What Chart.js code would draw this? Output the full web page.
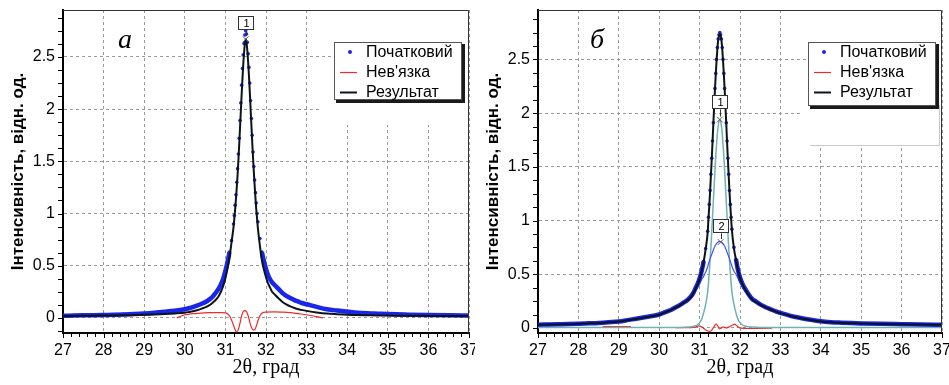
<!DOCTYPE html>
<html lang="uk">
<head>
<meta charset="utf-8">
<title>Профілі піка 2θ ≈ 31.5°</title>
<script src="https://cdn.jsdelivr.net/npm/chart.js@4.4.1/dist/chart.umd.min.js"></script>
<style>
  html, body { margin: 0; padding: 0; background: #fff; }
  #wrap { display: flex; width: 949px; height: 385px; overflow: hidden; }
  canvas { display: block; }
</style>
</head>
<body>
<div id="wrap">
  <canvas id="chartA" width="475" height="385"></canvas>
  <canvas id="chartB" width="474" height="385"></canvas>
</div>
<script>
// 2θ sample points, shared by both panels (degrees)
const twoTheta = [
  27.0, 27.25, 27.5, 27.75, 28.0, 28.25, 28.5, 28.75, 29.0, 29.25, 29.5, 29.75,
  30.0, 30.1, 30.2, 30.3, 30.4, 30.5, 30.6, 30.7, 30.8,
  30.85, 30.9, 30.95, 31.0, 31.05, 31.1, 31.15, 31.2,
  31.22, 31.24, 31.26, 31.28, 31.3, 31.32, 31.34, 31.36, 31.38, 31.4,
  31.42, 31.44, 31.46, 31.48, 31.5, 31.52, 31.54, 31.56, 31.58, 31.6,
  31.62, 31.64, 31.66, 31.68, 31.7, 31.72, 31.74, 31.76, 31.78, 31.8,
  31.85, 31.9, 31.95, 32.0, 32.05, 32.1, 32.15, 32.2,
  32.3, 32.4, 32.5, 32.6, 32.7, 32.8, 32.9, 33.0,
  33.25, 33.5, 33.75, 34.0, 34.25, 34.5, 34.75, 35.0,
  35.5, 36.0, 36.5, 37.0
];

// panel а
const measuredA = [
  0.020, 0.022, 0.024, 0.026, 0.028, 0.030, 0.033, 0.037, 0.042, 0.049, 0.058, 0.068,
  0.083, 0.092, 0.103, 0.117, 0.133, 0.150, 0.175, 0.21, 0.26,
  0.29, 0.33, 0.38, 0.45, 0.53, 0.63, 0.74, 0.90,
  0.98, 1.08, 1.18, 1.30, 1.43, 1.57, 1.72, 1.89, 2.06, 2.23,
  2.39, 2.52, 2.63, 2.71, 2.75, 2.72, 2.64, 2.53, 2.40, 2.25,
  2.08, 1.91, 1.75, 1.59, 1.45, 1.32, 1.20, 1.10, 1.00, 0.92,
  0.76, 0.63, 0.54, 0.47, 0.41, 0.37, 0.34, 0.32,
  0.28, 0.24, 0.21, 0.19, 0.17, 0.155, 0.14, 0.13,
  0.105, 0.083, 0.070, 0.060, 0.050, 0.044, 0.040, 0.036,
  0.031, 0.027, 0.024, 0.022
];
const fitA = [
  0.018, 0.019, 0.020, 0.021, 0.022, 0.023, 0.025, 0.027, 0.029, 0.032, 0.036, 0.042,
  0.050, 0.056, 0.063, 0.073, 0.086, 0.10, 0.12, 0.15, 0.19,
  0.22, 0.26, 0.31, 0.38, 0.47, 0.58, 0.72, 0.87,
  0.95, 1.04, 1.14, 1.25, 1.37, 1.51, 1.66, 1.82, 1.98, 2.14,
  2.29, 2.43, 2.54, 2.63, 2.67, 2.64, 2.56, 2.45, 2.32, 2.17,
  2.01, 1.85, 1.69, 1.54, 1.40, 1.27, 1.15, 1.04, 0.95, 0.86,
  0.69, 0.55, 0.46, 0.39, 0.33, 0.29, 0.25, 0.23,
  0.19, 0.155, 0.13, 0.11, 0.095, 0.083, 0.074, 0.067,
  0.052, 0.041, 0.035, 0.030, 0.027, 0.025, 0.023, 0.022,
  0.020, 0.019, 0.018, 0.017
];
const residualXA = [
  29.8, 30.0, 30.2, 30.4, 30.6, 30.8, 30.9, 31.0, 31.05, 31.1,
  31.15, 31.2, 31.24, 31.28, 31.32, 31.36, 31.4, 31.44, 31.48, 31.52,
  31.56, 31.6, 31.64, 31.68, 31.72, 31.76, 31.8, 31.85, 31.9, 32.0,
  32.2, 32.4, 32.6, 32.8, 33.0, 33.2, 33.4
];
const residualA = [
  0.0, 0.03, 0.04, 0.045, 0.05, 0.05, 0.05, 0.048, 0.04, 0.02,
  -0.02, -0.07, -0.115, -0.135, -0.11, -0.05, 0.02, 0.06, 0.07, 0.06,
  0.02, -0.04, -0.09, -0.115, -0.115, -0.08, -0.03, 0.02, 0.045, 0.055,
  0.058, 0.055, 0.05, 0.04, 0.03, 0.015, 0.0
];
const peakXA = [31.5];
const peakYA = [2.67];
const peakLabelYA = [2.83];
const peakNamesA = ['1'];

// panel б
const measuredB = [
  0.030, 0.032, 0.034, 0.036, 0.039, 0.043, 0.047, 0.053, 0.060, 0.075, 0.090, 0.107,
  0.125, 0.14, 0.155, 0.17, 0.19, 0.21, 0.235, 0.26, 0.30,
  0.33, 0.37, 0.41, 0.46, 0.53, 0.62, 0.74, 0.90,
  1.03, 1.15, 1.28, 1.43, 1.58, 1.74, 1.91, 2.07, 2.23, 2.37,
  2.50, 2.61, 2.69, 2.73, 2.75, 2.73, 2.69, 2.61, 2.50, 2.37,
  2.23, 2.07, 1.91, 1.74, 1.58, 1.43, 1.28, 1.15, 1.03, 0.92,
  0.75, 0.64, 0.54, 0.47, 0.42, 0.38, 0.35, 0.32,
  0.27, 0.245, 0.22, 0.20, 0.183, 0.167, 0.152, 0.14,
  0.113, 0.093, 0.076, 0.062, 0.054, 0.049, 0.045, 0.042,
  0.038, 0.035, 0.032, 0.030
];
const fitB = [
  0.029, 0.031, 0.033, 0.035, 0.038, 0.042, 0.046, 0.052, 0.059, 0.073, 0.088, 0.105,
  0.123, 0.138, 0.153, 0.168, 0.188, 0.208, 0.233, 0.258, 0.295,
  0.325, 0.365, 0.405, 0.455, 0.525, 0.615, 0.735, 0.89,
  1.02, 1.14, 1.27, 1.42, 1.57, 1.73, 1.90, 2.06, 2.22, 2.36,
  2.49, 2.60, 2.68, 2.72, 2.74, 2.72, 2.68, 2.60, 2.49, 2.36,
  2.22, 2.06, 1.90, 1.73, 1.57, 1.42, 1.27, 1.14, 1.02, 0.91,
  0.74, 0.635, 0.535, 0.465, 0.415, 0.375, 0.345, 0.315,
  0.265, 0.24, 0.218, 0.198, 0.181, 0.165, 0.15, 0.138,
  0.111, 0.091, 0.075, 0.061, 0.053, 0.048, 0.044, 0.041,
  0.037, 0.034, 0.031, 0.029
];
const peak1B = [
  0.005, 0.005, 0.005, 0.005, 0.005, 0.005, 0.005, 0.005, 0.005, 0.005, 0.005, 0.005,
  0.005, 0.005, 0.005, 0.005, 0.005, 0.005, 0.006, 0.008, 0.012,
  0.015, 0.02, 0.03, 0.05, 0.08, 0.14, 0.22, 0.335,
  0.42, 0.52, 0.63, 0.75, 0.89, 1.03, 1.18, 1.32, 1.46, 1.60,
  1.71, 1.81, 1.88, 1.925, 1.94, 1.925, 1.88, 1.81, 1.71, 1.60,
  1.46, 1.32, 1.18, 1.03, 0.89, 0.75, 0.63, 0.52, 0.42, 0.335,
  0.22, 0.14, 0.08, 0.05, 0.03, 0.02, 0.015, 0.012,
  0.008, 0.006, 0.005, 0.005, 0.005, 0.005, 0.005, 0.005,
  0.005, 0.005, 0.005, 0.005, 0.005, 0.005, 0.005, 0.005,
  0.005, 0.005, 0.005, 0.005
];
const peak2B = [
  0.025, 0.027, 0.029, 0.031, 0.034, 0.038, 0.042, 0.048, 0.055, 0.070, 0.085, 0.102,
  0.12, 0.135, 0.15, 0.165, 0.185, 0.205, 0.23, 0.25, 0.29,
  0.315, 0.35, 0.38, 0.41, 0.45, 0.48, 0.52, 0.57,
  0.60, 0.62, 0.645, 0.665, 0.685, 0.705, 0.725, 0.745, 0.76, 0.775,
  0.785, 0.795, 0.80, 0.805, 0.805, 0.805, 0.80, 0.795, 0.785, 0.775,
  0.76, 0.745, 0.725, 0.705, 0.685, 0.665, 0.645, 0.62, 0.60, 0.575,
  0.53, 0.50, 0.46, 0.42, 0.39, 0.36, 0.335, 0.31,
  0.262, 0.239, 0.215, 0.195, 0.178, 0.162, 0.147, 0.135,
  0.108, 0.088, 0.071, 0.057, 0.049, 0.044, 0.040, 0.037,
  0.033, 0.030, 0.027, 0.025
];
const residualXB = [
  28.6, 28.8, 29.0, 29.3, 29.8, 30.4, 30.6, 30.8, 30.9, 30.97,
  31.05, 31.12, 31.2, 31.26, 31.32, 31.37, 31.41, 31.45, 31.49, 31.54,
  31.58, 31.62, 31.66, 31.72, 31.78, 31.83, 31.87, 31.92, 32.0, 32.2,
  32.5, 32.8
];
const residualB = [
  0.012, 0.013, 0.012, 0.012, null, 0.002, 0.002, 0.003, 0.008, 0.02,
  0.012, -0.01, -0.028, -0.032, -0.01, 0.02, 0.036, 0.02, -0.008, 0.0,
  0.01, 0.005, 0.0, 0.008, 0.02, 0.03, 0.035, 0.02, 0.0, -0.005,
  -0.004, -0.003
];
const peakXB = [31.5, 31.52];
const peakYB = [1.94, 0.80];
const peakLabelYB = [2.10, 0.946];
const peakNamesB = ['1', '2'];

const BLUE = '#1a26ea';
const BLACK = '#0d1418';
const RED = '#f02a2a';
const TEAL = '#6fb2b2';
const THIN_BLUE = '#4352ee';
const GRID = '#9a9a9a';
const SANS = "'Liberation Sans', Arial, sans-serif";
const SERIF = "'Liberation Serif', 'Times New Roman', serif";
const bandGap = [31.1, 31.9]; // dots only (no dense band) around the apex

Chart.defaults.font.family = SANS;
Chart.defaults.color = '#000';

function pairs(xs, ys) {
  return xs.map((x, i) => ({ x, y: ys[i] }));
}

function measuredSet(values, order) {
  return {
    label: 'Початковий', legendKind: 'dot',
    data: pairs(twoTheta, values),
    showLine: true, borderColor: BLUE, borderWidth: 4.5,
    segment: {
      borderColor: c => (c.p0.parsed.x >= bandGap[0] && c.p1.parsed.x <= bandGap[1]) ? 'rgba(0,0,0,0)' : BLUE
    },
    pointRadius: 1.8, pointBackgroundColor: BLUE, pointBorderWidth: 0,
    order
  };
}

function lineSet(label, xs, values, color, width, order, legendKind) {
  return {
    label, legendKind,
    data: pairs(xs, values),
    borderColor: color, borderWidth: width,
    pointRadius: 0, spanGaps: false,
    order
  };
}

function markerSet(xs, ys) {
  return {
    label: 'peaks',
    data: pairs(xs, ys),
    showLine: false,
    pointStyle: 'crossRot', pointRadius: 4,
    pointBorderColor: '#555', pointBorderWidth: 1,
    order: 0
  };
}

// keep the plot box exactly where the layout padding puts it
function noLabelPadding(s) {
  s.paddingLeft = s.paddingRight = s.paddingTop = s.paddingBottom = 0;
}

// white patch behind legend, frame, minor ticks, peak tags, panel letter, legend
const panelDecor = {
  id: 'panelDecor',
  beforeDatasetsDraw(chart, args, o) {
    const { ctx, chartArea: a } = chart;
    ctx.save();
    ctx.fillStyle = '#fff';
    ctx.fillRect(a.right - o.clearWidth, a.top + 52, o.clearWidth - 1, o.clearBottom - 52);
    ctx.fillRect(a.right - o.legendRight - o.legendWidth, a.top + 1, o.legendWidth + o.legendRight - 1, 60);
    if (o.clearEdge) {
      ctx.strokeStyle = '#c8c8c8';
      ctx.lineWidth = 1;
      ctx.beginPath();
      ctx.moveTo(a.right - o.clearWidth + 10, a.top + o.clearBottom + 0.5);
      ctx.lineTo(a.right - 2.5, a.top + o.clearBottom + 0.5);
      ctx.lineTo(a.right - 2.5, a.top + 95);
      ctx.stroke();
    }
    ctx.restore();
  },
  afterDatasetsDraw(chart, args, o) {
    const { ctx, chartArea: a, scales: { x, y } } = chart;
    ctx.save();

    // frame top / right
    ctx.strokeStyle = '#333';
    ctx.lineWidth = 1;
    ctx.beginPath();
    ctx.moveTo(a.left, a.top + 0.5);
    ctx.lineTo(a.right - 0.5, a.top + 0.5);
    ctx.lineTo(a.right - 0.5, a.bottom);
    ctx.stroke();

    // ticks: 0.2 on x, 0.125 on y
    ctx.strokeStyle = '#000';
    ctx.beginPath();
    const nx = Math.round((x.max - x.min) / 0.2);
    for (let i = 0; i <= nx; i++) {
      const px = Math.round(x.getPixelForValue(x.min + i * 0.2)) + 0.5;
      ctx.moveTo(px, a.bottom + 1);
      ctx.lineTo(px, a.bottom + (i % 5 === 0 ? 5 : 4));
    }
    for (let v = Math.ceil(y.min / 0.125) * 0.125; v <= y.max; v += 0.125) {
      const py = Math.round(y.getPixelForValue(v)) + 0.5;
      ctx.moveTo(a.left - 5, py);
      ctx.lineTo(a.left - 1, py);
    }
    ctx.stroke();

    // peak tags
    ctx.font = '11px ' + SANS;
    ctx.textAlign = 'center';
    ctx.textBaseline = 'middle';
    o.peaks.xs.forEach((px0, i) => {
      const px = x.getPixelForValue(px0);
      const by = y.getPixelForValue(o.peaks.labelYs[i]);
      const my = y.getPixelForValue(o.peaks.ys[i]);
      ctx.strokeStyle = '#333';
      ctx.beginPath();
      ctx.moveTo(Math.round(px) + 0.5, by + 7);
      ctx.lineTo(Math.round(px) + 0.5, my - 3);
      ctx.stroke();
      ctx.fillStyle = '#fff';
      ctx.fillRect(Math.round(px) - 8, Math.round(by) - 7, 16, 14);
      ctx.strokeRect(Math.round(px) - 7.5, Math.round(by) - 6.5, 15, 13);
      ctx.fillStyle = '#000';
      ctx.fillText(o.peaks.names[i], Math.round(px) + 0.5, Math.round(by) + 0.5);
    });

    // panel letter
    ctx.font = 'italic 28px ' + SERIF;
    ctx.textBaseline = 'alphabetic';
    ctx.fillText(o.letter.text, x.getPixelForValue(o.letter.x), y.getPixelForValue(o.letter.y));

    // legend box
    const lx = Math.round(a.right - o.legendRight - o.legendWidth);
    const ly = Math.round(a.top + 32);
    ctx.fillStyle = '#fff';
    ctx.fillRect(lx, ly, o.legendWidth, o.legendHeight);
    ctx.fillStyle = '#1a1a1a';
    ctx.fillRect(lx + o.legendWidth, ly + 2, 3, o.legendHeight + 1);
    ctx.fillRect(lx + 2, ly + o.legendHeight, o.legendWidth, 3);
    ctx.strokeStyle = '#555';
    ctx.strokeRect(lx + 0.5, ly + 0.5, o.legendWidth - 1, o.legendHeight - 1);

    ctx.font = '16px ' + SANS;
    ctx.textAlign = 'left';
    ctx.textBaseline = 'middle';
    const items = chart.data.datasets.filter(d => d.legendKind);
    items.sort((p, q) => o.legendOrder.indexOf(p.label) - o.legendOrder.indexOf(q.label));
    items.forEach((d, i) => {
      const ry = ly + 10 + i * 20;
      if (d.legendKind === 'dot') {
        ctx.fillStyle = BLUE;
        ctx.beginPath();
        ctx.arc(lx + 16, ry, 2, 0, Math.PI * 2);
        ctx.fill();
      } else {
        ctx.strokeStyle = d.borderColor;
        ctx.lineWidth = d.borderWidth;
        ctx.beginPath();
        ctx.moveTo(lx + 6, ry + 0.5);
        ctx.lineTo(lx + 23, ry + 0.5);
        ctx.stroke();
      }
      ctx.fillStyle = '#000';
      ctx.fillText(d.label, lx + 32, ry + 1);
    });
    ctx.restore();
  }
};

function buildChart(canvasId, cfg) {
  const ctx = document.getElementById(canvasId).getContext('2d');
  return new Chart(ctx, {
    type: 'line',
    data: { datasets: cfg.datasets },
    options: {
      responsive: false,
      animation: false,
      events: [],
      layout: { autoPadding: false, padding: { top: 10, right: cfg.padRight, left: 0, bottom: 0 } },
      elements: { line: { cubicInterpolationMode: 'monotone' } },
      scales: {
        x: {
          type: 'linear', min: 27, max: 37,
          afterFit: s => { s.height = 52; noLabelPadding(s); },
          ticks: { stepSize: 1, autoSkip: false, maxRotation: 0, padding: 8, font: { size: 16 }, callback: v => String(v) },
          grid: { color: GRID, lineWidth: 1, drawTicks: false },
          border: { color: '#000', width: 2, dash: [3, 3] },
          title: { display: true, text: '2θ, град', font: { family: SERIF, size: 20 }, padding: { top: 0, bottom: 5 } }
        },
        y: {
          type: 'linear', min: cfg.yMin, max: cfg.yMax,
          afterFit: s => { s.width = 63; noLabelPadding(s); },
          ticks: { stepSize: 0.5, includeBounds: false, padding: 8, font: { size: 16 }, callback: v => String(v) },
          grid: { color: GRID, lineWidth: 1, drawTicks: false },
          border: { color: '#000', width: 2, dash: [3, 3] },
          title: { display: true, text: 'Інтенсивність, відн. од.', font: { size: 17, weight: 'bold' }, padding: { top: 8, bottom: 0 } }
        }
      },
      plugins: {
        legend: { display: false },
        tooltip: { enabled: false },
        panelDecor: cfg.decor
      }
    },
    plugins: [panelDecor]
  });
}

const legendOrder = ['Початковий', "Нев'язка", 'Результат'];

buildChart('chartA', {
  yMin: -0.145, yMax: 2.95, padRight: 6,
  datasets: [
    lineSet("Нев'язка", residualXA, residualA, RED, 1.2, 5, 'line'),
    measuredSet(measuredA, 3),
    lineSet('Результат', twoTheta, fitA, BLACK, 2, 2, 'line'),
    markerSet(peakXA, peakYA)
  ],
  decor: {
    clearWidth: 147, clearBottom: 115, clearEdge: false,
    legendWidth: 128, legendHeight: 58, legendRight: 7,
    legendOrder,
    letter: { text: 'а', x: 28.53, y: 2.59 },
    peaks: { xs: peakXA, ys: peakYA, labelYs: peakLabelYA, names: peakNamesA }
  }
});

buildChart('chartB', {
  yMin: -0.047, yMax: 2.96, padRight: 7,
  datasets: [
    lineSet("Нев'язка", residualXB, residualB, RED, 1.2, 6, 'line'),
    lineSet('peak 1', twoTheta, peak1B, TEAL, 1.5, 5),
    lineSet('peak 2', twoTheta, peak2B, THIN_BLUE, 1.2, 4),
    measuredSet(measuredB, 3),
    lineSet('Результат', twoTheta, fitB, BLACK, 2, 2, 'line'),
    markerSet(peakXB, peakYB)
  ],
  decor: {
    clearWidth: 142, clearBottom: 135, clearEdge: true,
    legendWidth: 128, legendHeight: 64, legendRight: 6,
    legendOrder,
    letter: { text: 'б', x: 28.46, y: 2.61 },
    peaks: { xs: peakXB, ys: peakYB, labelYs: peakLabelYB, names: peakNamesB }
  }
});
</script>
</body>
</html>
